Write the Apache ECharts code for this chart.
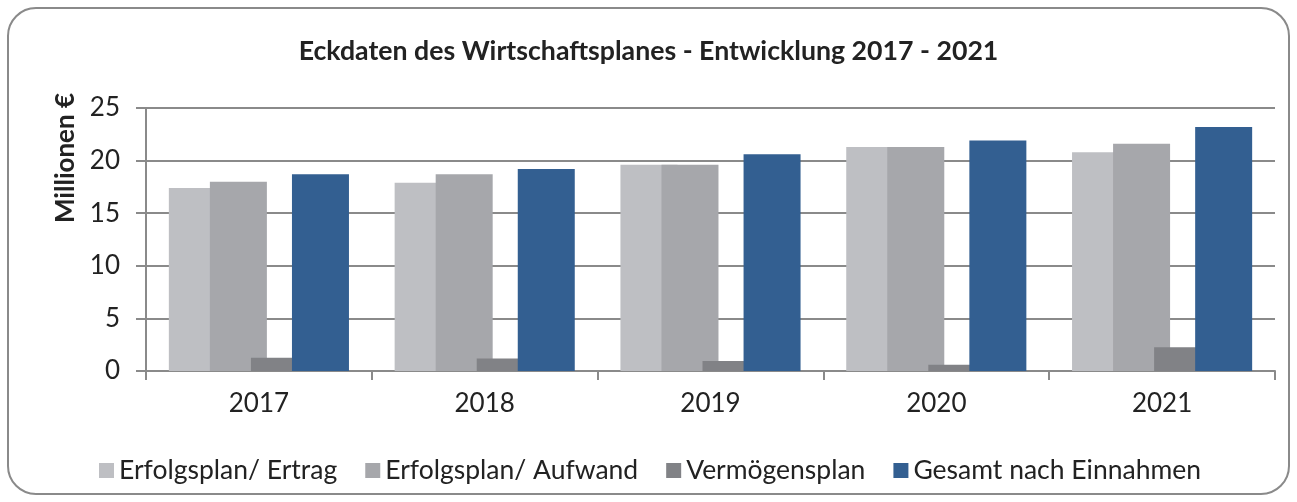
<!DOCTYPE html>
<html>
<head>
<meta charset="utf-8">
<script src="https://cdn.jsdelivr.net/npm/echarts@6/dist/echarts.min.js"></script>
<style>
  html, body { margin: 0; padding: 0; background: #fff; }
  #chart { width: 1297px; height: 502px; }
</style>
</head>
<body>
<div id="chart"></div>
<script>
// Daten (Millionen €)
const years = ['2017', '2018', '2019', '2020', '2021'];
const ertrag = [17.4, 17.9, 19.6, 21.3, 20.8];
const aufwand = [18.0, 18.7, 19.6, 21.3, 21.6];
const vermoegen = [1.25, 1.2, 0.95, 0.6, 2.25];
const gesamt = [18.7, 19.2, 20.6, 21.9, 23.2];
const seriesNames = ['Erfolgsplan/ Ertrag', 'Erfolgsplan/ Aufwand', 'Vermögensplan', 'Gesamt nach Einnahmen'];
const colors = ['#bebfc3', '#a6a7ab', '#818286', '#335f91'];

const chart = echarts.init(document.getElementById('chart'));
const font = 'Lato, "Open Sans", sans-serif';

const option = {
  animation: false,
  color: colors,
  textStyle: { fontFamily: font, color: '#222' },
  title: {
    text: 'Eckdaten des Wirtschaftsplanes - Entwicklung 2017 - 2021',
    left: 'center',
    top: 33,
    textStyle: { fontFamily: font, fontSize: 26.7, fontWeight: 'bold', color: '#222' }
  },
  graphic: [{
    type: 'rect',
    shape: { x: 8, y: 8, width: 1281, height: 486, r: 28 },
    style: { fill: 'none', stroke: '#8a8a8a', lineWidth: 2 },
    silent: true
  }, {
    // Achsentitel
    type: 'text',
    x: 66,
    y: 158,
    rotation: Math.PI / 2,
    style: {
      text: 'Millionen €',
      fontFamily: font,
      fontSize: 26,
      fontWeight: 'bold',
      fill: '#222',
      align: 'center',
      verticalAlign: 'middle'
    },
    silent: true
  }],
  legend: {
    data: seriesNames,
    left: 94,
    top: 452,
    itemWidth: 15,
    itemHeight: 15,
    itemGap: 28,
    icon: 'rect',
    textStyle: { fontFamily: font, fontSize: 26.5, color: '#222', padding: [0, 0, 0, 0] }
  },
  grid: {
    left: 146,
    right: 22,
    top: 108,
    bottom: 131
  },
  xAxis: {
    type: 'category',
    data: years,
    axisLine: { lineStyle: { color: '#8a8a8a', width: 2 } },
    axisTick: { show: true, length: 9, alignWithLabel: false, lineStyle: { color: '#8a8a8a', width: 2 } },
    axisLabel: { fontFamily: font, fontSize: 26, color: '#222', margin: 20 }
  },
  yAxis: {
    type: 'value',
    min: 0,
    max: 25,
    interval: 5,
    axisLine: { show: true, lineStyle: { color: '#8a8a8a', width: 2 } },
    axisTick: { show: true, length: 10, lineStyle: { color: '#8a8a8a', width: 2 } },
    axisLabel: { fontFamily: font, fontSize: 26, color: '#222', margin: 26 },
    splitLine: { lineStyle: { color: '#8a8a8a', width: 2 } }
  },
  series: [
    { name: seriesNames[0], type: 'bar', data: ertrag, barWidth: 57, barGap: '-28%', itemStyle: { color: colors[0] } },
    { name: seriesNames[1], type: 'bar', data: aufwand, barWidth: 57, barGap: '-28%', itemStyle: { color: colors[1] } },
    { name: seriesNames[2], type: 'bar', data: vermoegen, barWidth: 57, barGap: '-28%', itemStyle: { color: colors[2] } },
    { name: seriesNames[3], type: 'bar', data: gesamt, barWidth: 57, barGap: '-28%', itemStyle: { color: colors[3] } }
  ]
};

chart.setOption(option);
window.addEventListener('resize', () => {
  chart.resize();
});
</script>
</body>
</html>
